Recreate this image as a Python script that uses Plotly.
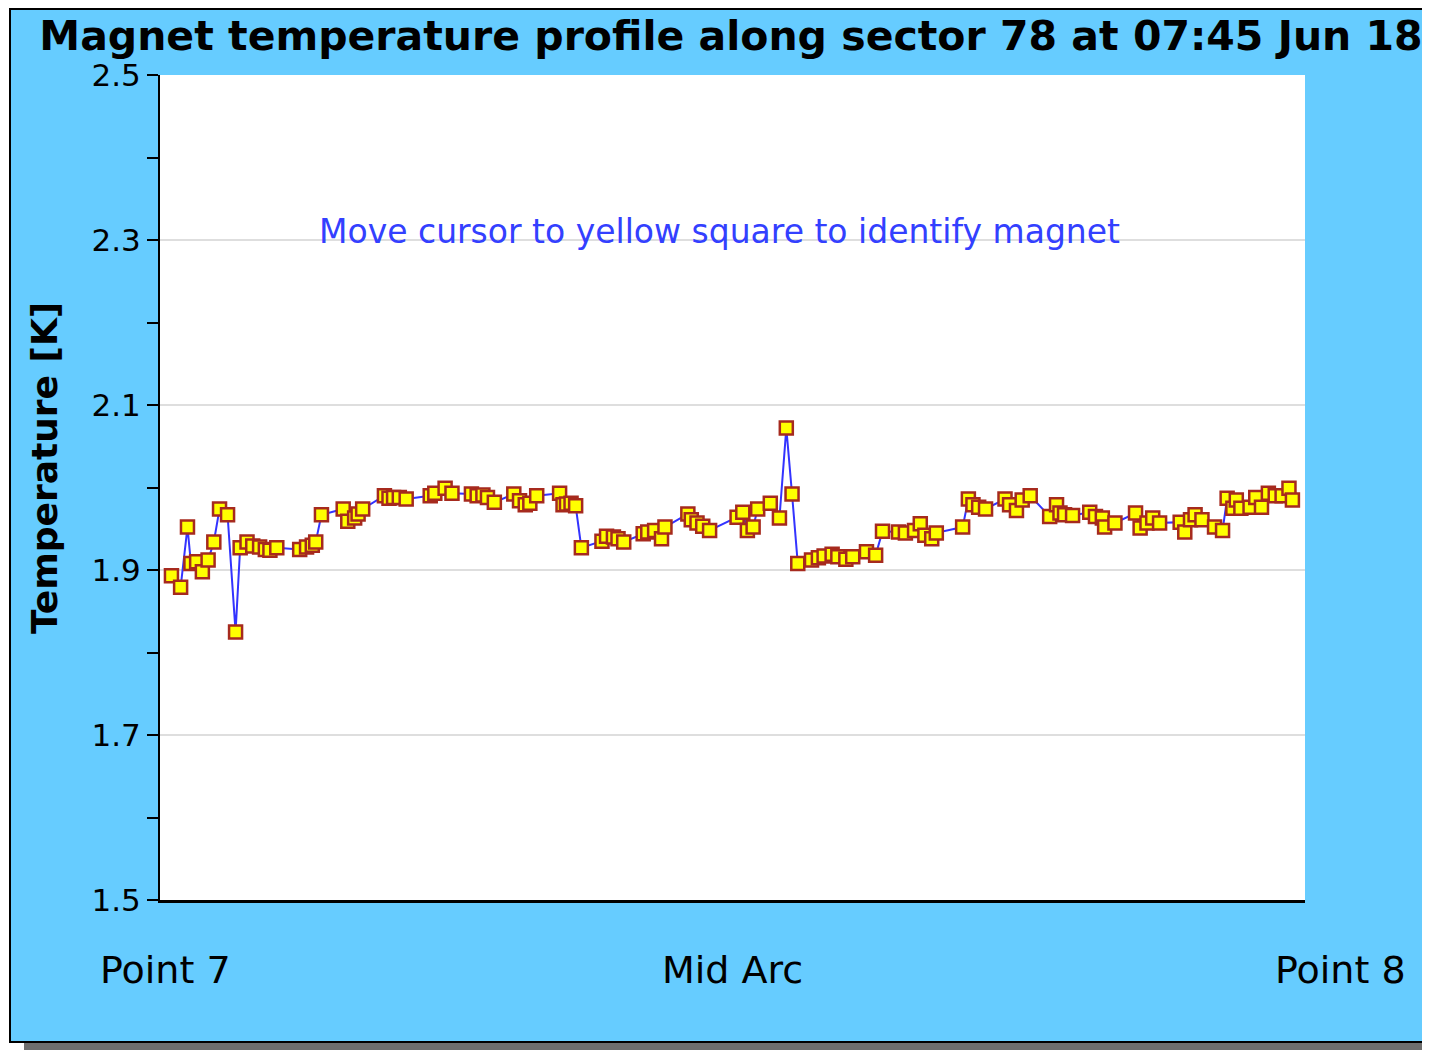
import plotly.graph_objects as go

# magnet positions along the arc (percent of sector length) and temperatures [K]
position = [
    1.0, 1.8, 2.4, 2.7, 3.2, 3.7, 4.2, 4.7, 5.2, 5.9, 6.6, 7.0, 7.6, 8.1, 8.7, 9.2, 9.6, 10.2,
    12.2, 12.8, 13.3, 13.6, 14.1, 16.0, 16.4, 17.0, 17.3, 17.7, 19.6, 20.0, 20.4, 20.9, 21.5,
    23.6, 24.0, 24.9, 25.5, 27.2, 27.7, 28.2, 28.6, 29.2, 30.9, 31.4, 31.9, 32.3, 32.9,
    34.9, 35.2, 35.5, 35.9, 36.3, 36.8, 38.6, 39.0, 39.6, 40.0, 40.5, 42.2, 42.6, 43.2, 43.8, 44.1,
    46.1, 46.4, 46.9, 47.4, 48.0, 50.4, 50.9, 51.3, 51.8, 52.2, 53.3, 54.1, 54.7, 55.2, 55.7,
    56.9, 57.5, 58.0, 58.7, 59.2, 59.9, 60.5, 61.7, 62.5, 63.1, 64.5, 65.1, 65.9, 66.4, 66.8,
    67.4, 67.8, 70.1, 70.6, 71.0, 71.5, 72.1, 73.8, 74.2, 74.8, 75.3, 76.0, 77.7, 78.3, 78.6,
    79.0, 79.7, 81.2, 81.7, 82.3, 82.5, 83.4, 85.2, 85.6, 86.2, 86.7, 87.3, 89.1, 89.5, 90.0,
    90.4, 91.0, 92.1, 92.8, 93.2, 93.7, 94.0, 94.4, 95.2, 95.7, 96.2, 96.8, 97.4, 98.0, 98.6, 98.9,
]
temperature = [
    1.893, 1.879, 1.952, 1.908, 1.910, 1.898, 1.912, 1.934, 1.974, 1.967, 1.825, 1.927, 1.934,
    1.929, 1.928, 1.925, 1.924, 1.927, 1.925, 1.928, 1.930, 1.934, 1.967, 1.974, 1.959, 1.963,
    1.968, 1.974, 1.990, 1.987, 1.988, 1.988, 1.986, 1.990, 1.993, 1.999, 1.993, 1.992, 1.990,
    1.991, 1.988, 1.982, 1.992, 1.984, 1.979, 1.981, 1.990, 1.993, 1.979, 1.980, 1.981, 1.978,
    1.927, 1.935, 1.941, 1.940, 1.938, 1.934, 1.944, 1.946, 1.948, 1.938, 1.952, 1.968, 1.961,
    1.957, 1.953, 1.948, 1.964, 1.970, 1.948, 1.952, 1.974, 1.981, 1.963, 2.072, 1.992, 1.908,
    1.912, 1.915, 1.917, 1.919, 1.916, 1.913, 1.916, 1.922, 1.918, 1.947, 1.946, 1.945, 1.948,
    1.956, 1.942, 1.938, 1.945, 1.952, 1.986, 1.979, 1.976, 1.974, 1.986, 1.979, 1.972, 1.985,
    1.990, 1.965, 1.979, 1.969, 1.967, 1.966, 1.970, 1.965, 1.963, 1.952, 1.957, 1.969, 1.951,
    1.957, 1.963, 1.957, 1.958, 1.946, 1.961, 1.967, 1.961, 1.952, 1.948, 1.987, 1.975, 1.985,
    1.975, 1.976, 1.988, 1.976, 1.993, 1.990, 1.990, 1.999, 1.985,
]

y_ticks = [1.5, 1.7, 1.9, 2.1, 2.3, 2.5]
y_labels = ["1.5", "1.7", "1.9", "2.1", "2.3", "2.5"]
arc_labels = ["Point 7", "Mid Arc", "Point 8"]

FONT = "DejaVu Sans"
OFF = 8  # page body margin
W, H = 1430 - OFF, 1050 - OFF
L, R, T, B = 160 - OFF, 125, 75 - OFF, 150


def px(x):
    # screen x -> paper fraction
    return (x - OFF - L) / (W - L - R)


def py(y):
    # screen y -> paper fraction
    return (H - B - (y - OFF)) / (H - T - B)


fig = go.Figure()
fig.add_trace(go.Scatter(
    x=position, y=temperature, mode="lines+markers",
    line=dict(color="#3333ff", width=2),
    marker=dict(symbol="square", size=13, color="#ffff00",
                line=dict(color="#a62a1e", width=2.5)),
    hoverinfo="skip", showlegend=False,
))

shapes = [
    dict(type="rect", xref="paper", yref="paper", x0=px(0), x1=px(10), y0=py(1052), y1=py(0),
         fillcolor="white", line_width=0, layer="above"),
    dict(type="rect", xref="paper", yref="paper", x0=px(10), x1=px(24), y0=py(1052), y1=py(1042),
         fillcolor="white", line_width=0, layer="above"),
    dict(type="rect", xref="paper", yref="paper", x0=px(24), x1=px(1434), y0=py(1052), y1=py(1042),
         fillcolor="#6e6e6e", line_width=0, layer="above"),
    dict(type="rect", xref="paper", yref="paper", x0=px(10), x1=px(1436), y0=py(1042), y1=py(9),
         fillcolor="rgba(0,0,0,0)", line=dict(color="black", width=2), layer="above"),
]

annotations = [
    dict(text="Temperature [K]", xref="paper", yref="paper", x=px(45), y=py(468),
         xanchor="center", yanchor="middle", textangle=-90, showarrow=False,
         font=dict(family=FONT, size=36, color="black", weight="bold")),
    dict(text="Move cursor to yellow square to identify magnet", xref="paper", yref="paper",
         x=px(719), y=py(231), xanchor="center", yanchor="middle", showarrow=False,
         font=dict(family=FONT, size=33, color="#3340ff")),
    dict(text=arc_labels[0], xref="paper", yref="paper", x=px(98), y=py(970),
         xanchor="left", yanchor="middle", showarrow=False,
         font=dict(family=FONT, size=38, color="black")),
    dict(text=arc_labels[1], xref="paper", yref="paper", x=px(732), y=py(970),
         xanchor="center", yanchor="middle", showarrow=False,
         font=dict(family=FONT, size=38, color="black")),
    dict(text=arc_labels[2], xref="paper", yref="paper", x=px(1408), y=py(970),
         xanchor="right", yanchor="middle", showarrow=False,
         font=dict(family=FONT, size=38, color="black")),
]

fig.update_layout(
    width=W, height=H,
    margin=dict(l=L, r=R, t=T, b=B),
    paper_bgcolor="#66ccff",
    plot_bgcolor="white",
    title=dict(text="<b>Magnet temperature profile along sector 78 at 07:45 Jun 18</b>",
               x=px(731), xref="paper", xanchor="center",
               y=1 - (36 - OFF) / H, yref="container", yanchor="middle",
               font=dict(family=FONT, size=41, color="black")),
    xaxis=dict(range=[0, 100], showgrid=False, zeroline=False, showticklabels=False,
               ticks="", showline=True, linecolor="black", linewidth=3),
    yaxis=dict(range=[1.5, 2.5], tickvals=y_ticks, ticktext=y_labels, ticks="outside",
               ticklen=11, tickcolor="black", tickwidth=2, showline=True, linecolor="black",
               linewidth=2, showgrid=True, gridcolor="#dedede", gridwidth=2, zeroline=False,
               tickfont=dict(family=FONT, size=31, color="black"),
               minor=dict(dtick=0.1, ticks="outside", ticklen=11, tickcolor="black",
                          tickwidth=2, showgrid=False)),
    shapes=shapes,
    annotations=annotations,
)

fig.write_html("out.html")
